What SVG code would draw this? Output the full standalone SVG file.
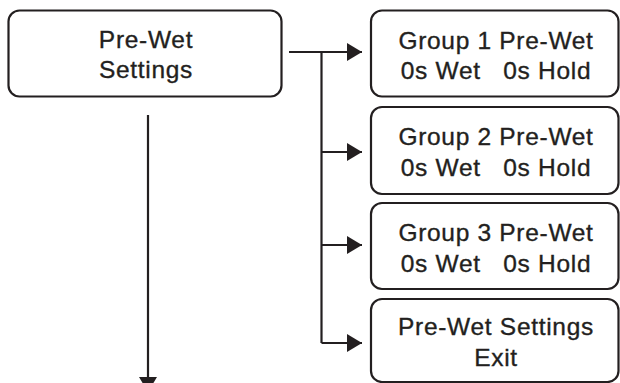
<svg xmlns="http://www.w3.org/2000/svg" width="620" height="383" viewBox="0 0 620 383">
<style>
.box{fill:#fff;stroke:#231f20;stroke-width:2.2}
.t{font-family:"Liberation Sans",Arial,sans-serif;font-size:24.5px;fill:#231f20;stroke:#231f20;stroke-width:0.35;text-anchor:middle;letter-spacing:0.7px;white-space:pre}
.c{fill:none;stroke:#231f20;stroke-width:2.2}
</style>
<defs>
<marker id="ah" markerUnits="userSpaceOnUse" markerWidth="16" markerHeight="18" refX="15" refY="9" orient="auto">
<path d="M0,0 L15,9 L0,18 Z" fill="#231f20"/>
</marker>
</defs>
<rect width="620" height="383" fill="#fff"/>
<g id="main">
<rect class="box" x="8.5" y="10.5" width="273" height="86" rx="11"/>
<text class="t" x="146" y="48">Pre-Wet</text>
<text class="t" x="146" y="78">Settings</text>
</g>
<g id="g1">
<rect class="box" x="371" y="10.5" width="247.5" height="86" rx="11"/>
<text class="t" x="496" y="49">Group 1 Pre-Wet</text>
<text class="t" x="496" y="79">0s Wet   0s Hold</text>
</g>
<g id="g2">
<rect class="box" x="371" y="107" width="247.5" height="87" rx="11"/>
<text class="t" x="496" y="145">Group 2 Pre-Wet</text>
<text class="t" x="496" y="176">0s Wet   0s Hold</text>
</g>
<g id="g3">
<rect class="box" x="371" y="203" width="247.5" height="86" rx="11"/>
<text class="t" x="496" y="241">Group 3 Pre-Wet</text>
<text class="t" x="496" y="272">0s Wet   0s Hold</text>
</g>
<g id="exit">
<rect class="box" x="371" y="299" width="247.5" height="83" rx="11"/>
<text class="t" x="496" y="335">Pre-Wet Settings</text>
<text class="t" x="496" y="366">Exit</text>
</g>
<g id="connectors">
<path class="c" d="M289,52 H362" marker-end="url(#ah)"/>
<path class="c" d="M321.5,52 V343"/>
<path class="c" d="M321.5,152 H362" marker-end="url(#ah)"/>
<path class="c" d="M321.5,245 H362" marker-end="url(#ah)"/>
<path class="c" d="M321.5,343 H362" marker-end="url(#ah)"/>
<path class="c" d="M148,115 V392" marker-end="url(#ah)"/>
</g>
</svg>
